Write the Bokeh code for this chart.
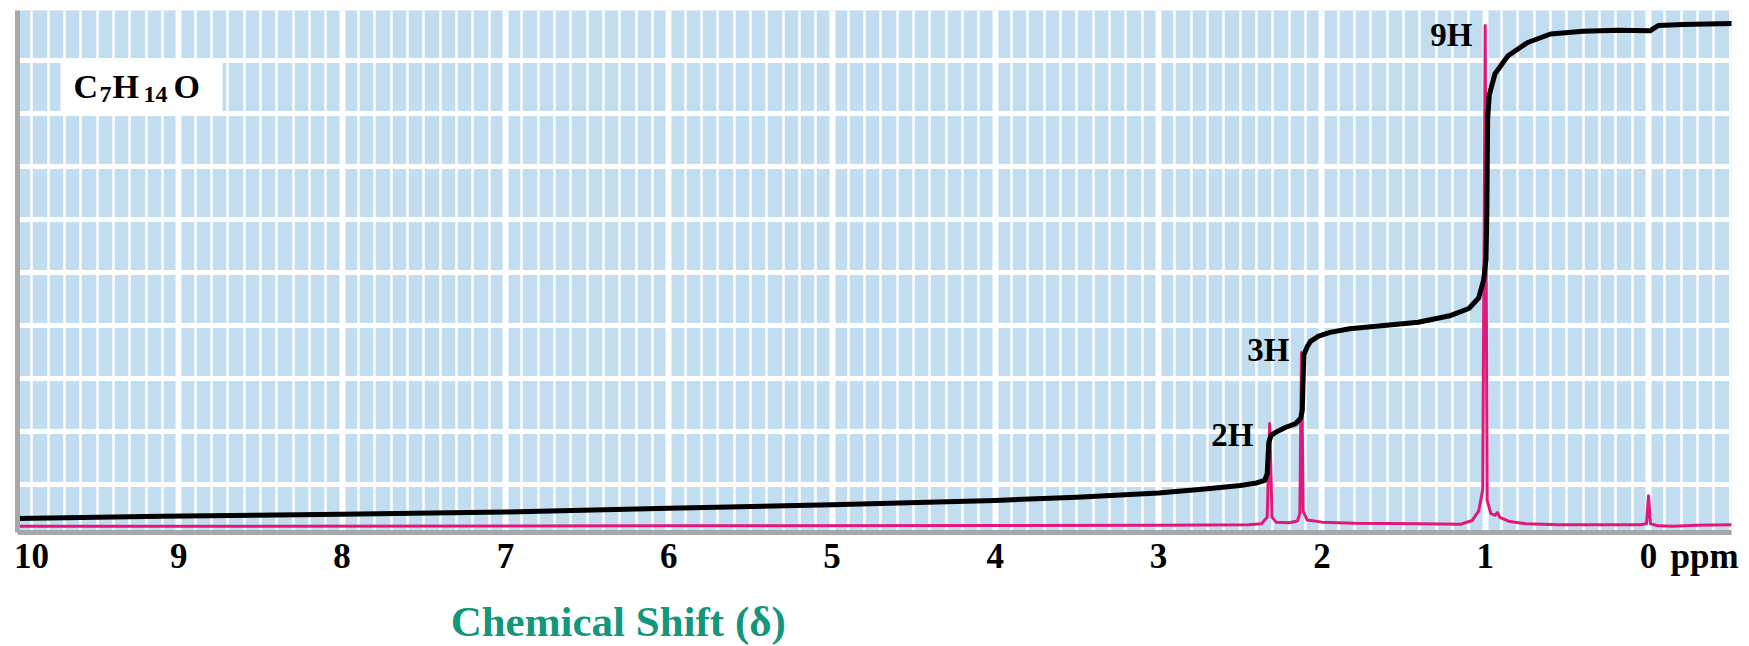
from bokeh.plotting import figure
from bokeh.models import Range1d, FixedTicker, SingleIntervalTicker, Label
from bokeh.layouts import column
from bokeh.embed import file_html
from bokeh.resources import INLINE

# ---- data ----
# 1H NMR spectrum (pink trace): chemical shift (ppm) and intensity (chart units)
spec_ppm = [10.0, 6.0, 3.0, 2.45, 2.37, 2.335, 2.32, 2.305, 2.28, 2.20, 2.15, 2.135,
            2.125, 2.115, 2.09, 2.0, 1.80, 1.40, 1.15, 1.08, 1.04, 1.015, 1.00, 0.988,
            0.965, 0.94, 0.925, 0.91, 0.85, 0.75, 0.55, 0.05, 0.012, 0.0, -0.012,
            -0.06, -0.15, -0.30, -0.51]
spec_int = [-0.79, -0.78, -0.77, -0.76, -0.74, -0.62, 1.15, -0.62, -0.71, -0.72, -0.69, -0.55,
            2.49, -0.50, -0.67, -0.71, -0.73, -0.74, -0.75, -0.68, -0.50, -0.10, 8.66, -0.30,
            -0.55, -0.58, -0.53, -0.62, -0.70, -0.74, -0.76, -0.76, -0.74, -0.21, -0.74,
            -0.78, -0.79, -0.77, -0.76]

# integral trace (black)
integ_ppm = [10.0, 9.1, 8.0, 7.0, 6.0, 5.0, 4.0, 3.5, 3.0, 2.7, 2.5, 2.40, 2.35, 2.335,
             2.33, 2.325, 2.31, 2.28, 2.22, 2.16, 2.13, 2.12, 2.115, 2.11, 2.09, 2.07,
             2.02, 1.95, 1.83, 1.62, 1.41, 1.21, 1.10, 1.04, 1.01, 0.995, 0.99, 0.985,
             0.975, 0.94, 0.86, 0.74, 0.60, 0.40, 0.19, -0.01, -0.03, -0.06, -0.21, -0.51]
integ_val = [-0.64, -0.60, -0.56, -0.52, -0.45, -0.38, -0.30, -0.24, -0.16, -0.08, -0.02, 0.03,
             0.08, 0.20, 0.50, 0.80, 0.93, 0.99, 1.08, 1.15, 1.25, 1.40, 2.00, 2.45, 2.60,
             2.70, 2.80, 2.87, 2.94, 3.00, 3.06, 3.19, 3.32, 3.52, 3.85, 4.25, 5.10, 6.90,
             7.35, 7.75, 8.09, 8.34, 8.50, 8.55, 8.57, 8.56, 8.60, 8.66, 8.68, 8.70]

x_ticks = list(range(0, 10))          # 0 .. 9 drawn at their positions
tick_labels = [str(t) for t in x_ticks]
left_label = "10"
unit_label = "ppm"
formula_parts = ["C", "7", "H", "14", "O"]
peak_labels = ["9H", "3H", "2H"]
x_title = "Chemical Shift (δ)"

# ---- layout helpers (page pixel -> data, used only to place annotations) ----
def px_x(px):
    return 10 - (px - 15) / 163.3

def px_y(py):
    return (484 - py) / 53

SERIF = "Liberation Serif"
W, H_MAIN, H_TITLE = 1749, 590, 56
F_LEFT, F_RIGHT, F_TOP, F_BOTTOM = 17, 1731, 10, 532
LABEL_SHIFT = 11   # label baseline correction, px

p = figure(width=W, height=H_MAIN,
           x_range=Range1d(px_x(F_LEFT), px_x(F_RIGHT)),
           y_range=Range1d(px_y(F_BOTTOM), px_y(F_TOP)),
           output_backend="svg", toolbar_location=None,
           min_border_left=F_LEFT, min_border_right=W - F_RIGHT,
           min_border_top=F_TOP, min_border_bottom=H_MAIN - F_BOTTOM,
           title=None)

p.background_fill_color = "#c2dcf0"
p.border_fill_color = "white"
p.outline_line_color = None

# grid
p.xgrid.ticker = SingleIntervalTicker(interval=1, num_minor_ticks=10)
p.xgrid.grid_line_color = "white"
p.xgrid.grid_line_width = 6
p.xgrid.minor_grid_line_color = "white"
p.xgrid.minor_grid_line_width = 2.5
p.ygrid.ticker = FixedTicker(ticks=list(range(0, 9)))
p.ygrid.grid_line_color = "white"
p.ygrid.grid_line_width = 5

# bottom axis: numbers, plus "10" (kept inside the page) and the unit
pos_10 = round(px_x(31), 3)
pos_unit = round(px_x(1704), 3)
xa = p.xaxis[0]
xa.ticker = FixedTicker(ticks=x_ticks + [pos_10, pos_unit])
overrides = {t: s for t, s in zip(x_ticks, tick_labels)}
overrides[pos_10] = left_label
overrides[pos_unit] = unit_label
xa.major_label_overrides = overrides
xa.axis_line_color = "#a8a8a8"
xa.axis_line_width = 5
xa.major_tick_in = 0
xa.major_tick_out = 0
xa.minor_tick_in = 0
xa.minor_tick_out = 0
xa.major_label_standoff = 4
xa.major_label_text_font = SERIF
xa.major_label_text_font_style = "bold"
xa.major_label_text_font_size = "35px"
xa.major_label_text_color = "black"

# left axis (only the grey line)
ya = p.yaxis[0]
ya.ticker = FixedTicker(ticks=[])
ya.axis_line_color = "#a8a8a8"
ya.axis_line_width = 5
ya.major_tick_in = 0
ya.major_tick_out = 0
ya.minor_tick_in = 0
ya.minor_tick_out = 0
ya.major_label_standoff = 0
ya.major_label_text_font_size = "0px"

# white box behind the formula
p.quad(left=[px_x(60)], right=[px_x(222)], bottom=[px_y(115)], top=[px_y(58)],
       fill_color="white", line_color=None)

# traces
p.line(spec_ppm, spec_int, line_color="#e0187c", line_width=3, line_join="round")
p.line(integ_ppm, integ_val, line_color="black", line_width=5, line_join="round", line_cap="round")

def lab(text, px, py, size, align="left", color="black"):
    p.add_layout(Label(x=px_x(px), y=px_y(py - LABEL_SHIFT), text=text, text_font=SERIF,
                       text_font_style="bold", text_font_size=size, text_color=color,
                       text_align=align, text_baseline="alphabetic"))

# formula C7H14O
lab(formula_parts[0], 73, 97, "34px")
lab(formula_parts[1], 99, 105, "24px")
lab(formula_parts[2], 112, 97, "34px")
lab(formula_parts[3], 143, 105, "24px")
lab(formula_parts[4], 173, 97, "34px")

# peak labels
lab(peak_labels[0], 1472, 45, "33px", align="right")
lab(peak_labels[1], 1289, 360, "33px", align="right")
lab(peak_labels[2], 1253, 445, "33px", align="right")

# ---- strip below the chart carrying the axis title ----
t = figure(width=W, height=H_TITLE, x_range=Range1d(0, W), y_range=Range1d(H_TITLE, 0),
           output_backend="svg", toolbar_location=None, x_axis_type=None, y_axis_type=None,
           min_border=0, title=None)
t.grid.visible = False
t.outline_line_color = None
t.background_fill_color = "white"
t.border_fill_color = "white"
t.add_layout(Label(x=442, y=632 - H_MAIN - LABEL_SHIFT, text=x_title, text_font=SERIF,
                   text_font_style="bold", text_font_size="43px", text_color="#12967c",
                   text_align="left", text_baseline="alphabetic"))

open("out.html", "w").write(file_html(column(p, t, spacing=0), INLINE))
